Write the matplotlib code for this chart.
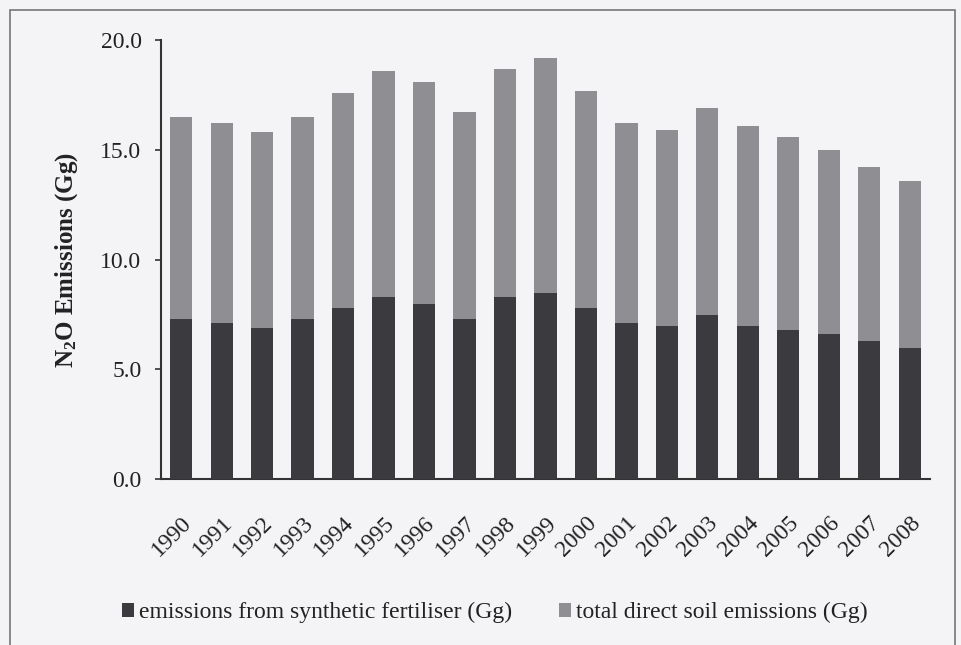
import numpy as np
import matplotlib
matplotlib.use('Agg')
import matplotlib.pyplot as plt
from matplotlib.patches import Rectangle

years = ['1990', '1991', '1992', '1993', '1994', '1995', '1996', '1997', '1998', '1999',
         '2000', '2001', '2002', '2003', '2004', '2005', '2006', '2007', '2008']
total_soil = [16.5, 16.2, 15.8, 16.5, 17.6, 18.6, 18.1, 16.7, 18.7, 19.2,
              17.7, 16.2, 15.9, 16.9, 16.1, 15.6, 15.0, 14.2, 13.6]
fertiliser = [7.3, 7.1, 6.9, 7.3, 7.8, 8.3, 8.0, 7.3, 8.3, 8.5,
              7.8, 7.1, 7.0, 7.5, 7.0, 6.8, 6.6, 6.3, 6.0]

plt.rcParams['font.family'] = ['Liberation Serif', 'DejaVu Serif']
plt.rcParams['mathtext.fontset'] = 'custom'
plt.rcParams['mathtext.rm'] = 'Liberation Serif:bold'
plt.rcParams['mathtext.bf'] = 'Liberation Serif:bold'

bg = '#f4f4f7'
dark = '#3b3a3f'
light = '#8f8f93'
axcol = '#333333'

fig = plt.figure(figsize=(9.61, 6.45), dpi=100, facecolor=bg)
ax = fig.add_axes([0.1675, 0.2569, 0.8002, 0.6811])
ax.set_facecolor(bg)

x = np.arange(len(years))
ax.bar(x, total_soil, width=0.55, color=light, label='total direct soil emissions (Gg)', zorder=2)
ax.bar(x, fertiliser, width=0.55, color=dark, label='emissions from synthetic fertiliser (Gg)', zorder=3)

ax.set_xlim(-0.5, len(years) - 0.5)
ax.set_ylim(0, 20)
ax.set_yticks([0, 5, 10, 15, 20])
ax.set_yticklabels([f'{v:.1f}' for v in [0, 5, 10, 15, 20]])
ax.set_xticks(x)
ax.set_xticklabels(years, rotation=45, ha='right', rotation_mode='anchor')

ax.tick_params(axis='y', direction='out', length=4, width=1.2, color=axcol,
               labelsize=17, pad=10, labelcolor='#222222')
ax.tick_params(axis='x', length=0, labelsize=17, pad=24, labelcolor='#222222')

for s in ['top', 'right']:
    ax.spines[s].set_visible(False)
for s in ['left', 'bottom']:
    ax.spines[s].set_color(axcol)
    ax.spines[s].set_linewidth(1.5)

ax.set_ylabel(r'$\mathregular{N_2O}$ Emissions (Gg)', fontsize=18, fontweight='bold',
              color='#222222', labelpad=15)

handles, labels = ax.get_legend_handles_labels()
leg = fig.legend(handles[::-1], labels[::-1], loc='center', bbox_to_anchor=(0.515, 0.05),
                 ncol=2, frameon=False, fontsize=17, handlelength=0.5, handleheight=0.5,
                 handletextpad=0.2, columnspacing=2.0, labelcolor='#222222')

# outer frame of the chart area
fig.patches.append(Rectangle((10 / 961, -0.05), 945 / 961, 1 - 10 / 645 + 0.05,
                             transform=fig.transFigure, fill=False,
                             edgecolor='#777777', linewidth=1.2))

fig.savefig('out.png', dpi=100, facecolor=bg)
